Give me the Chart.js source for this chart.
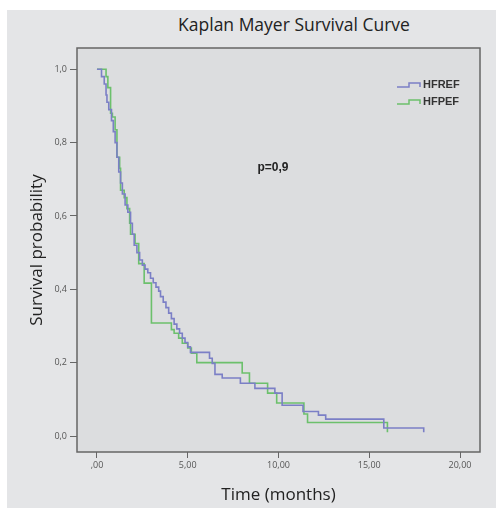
<!DOCTYPE html>
<html>
<head>
    <meta charset="UTF-8">
    <title>Kaplan Mayer Survival Curve</title>
    <style>
        body {
            margin: 0;
            padding: 0;
            background-color: #fff;
            font-family: "Open Sans", Arial, sans-serif;
        }
        #panel {
            position: absolute;
            left: 7px;
            top: 10px;
            width: 489px;
            height: 498px;
            background-color: #e4e5e7;
        }
        #title {
            position: absolute;
            left: 150px;
            top: 12px;
            width: 288px;
            text-align: center;
            font-size: 17.5px;
            color: #222;
        }
        #wrap {
            position: absolute;
            left: 0;
            top: 0;
            width: 496px;
            height: 509px;
        }
    </style>
</head>
<body>
    <div id="panel"></div>
    <div id="title">Kaplan Mayer Survival Curve</div>
    <div id="wrap"><canvas id="kmChart"></canvas></div>

    <script src="https://cdn.jsdelivr.net/npm/chart.js"></script>
    <script>
        // Datos (tiempo en meses, supervivencia)
        var seriesNames = ['HFREF', 'HFPEF'];
        var hfrefTime = [0, 0.25, 0.4, 0.5, 0.55, 0.65, 0.8, 0.9, 1.0, 1.1, 1.2, 1.3, 1.4, 1.55, 1.7, 1.85, 1.95, 2.05, 2.2, 2.35,
            2.5, 2.65, 2.8, 2.95, 3.1, 3.25, 3.4, 3.5, 3.65, 3.8, 3.95, 4.1, 4.25, 4.4, 4.55, 4.7, 4.85, 5.0, 5.15, 6.2,
            6.35, 6.5, 6.9, 7.9, 8.7, 9.8, 10.2, 11.35, 12.2, 12.6, 15.8, 18.0];
        var hfrefSurv = [1.0, 0.98, 0.96, 0.93, 0.91, 0.89, 0.86, 0.83, 0.80, 0.76, 0.72, 0.69, 0.66, 0.63, 0.61, 0.58, 0.55, 0.52, 0.50, 0.48,
            0.466, 0.455, 0.445, 0.43, 0.418, 0.406, 0.395, 0.38, 0.365, 0.35, 0.335, 0.32, 0.305, 0.292, 0.28, 0.267, 0.255, 0.243, 0.228, 0.212,
            0.198, 0.168, 0.158, 0.144, 0.13, 0.117, 0.084, 0.067, 0.057, 0.046, 0.022, 0.01];
        var hfpefTime = [0, 0.5, 0.6, 0.75, 0.85, 1.0, 1.1, 1.25, 1.3, 1.5, 1.65, 1.8, 1.85, 2.1, 2.3, 2.6, 3.0, 4.1, 4.25, 4.5,
            4.7, 5.0, 5.2, 5.5, 8.0, 8.4, 9.4, 9.9, 11.4, 11.6, 16.0];
        var hfpefSurv = [1.0, 0.98, 0.95, 0.88, 0.87, 0.835, 0.76, 0.73, 0.67, 0.65, 0.62, 0.58, 0.55, 0.525, 0.47, 0.417, 0.308, 0.29, 0.28, 0.267,
            0.253, 0.24, 0.226, 0.2, 0.172, 0.144, 0.117, 0.09, 0.06, 0.037, 0.01];
        var xTicks = [0, 5, 10, 15, 20];
        var yTicks = [0, 0.2, 0.4, 0.6, 0.8, 1.0];
        var pText = 'p=0,9';

        var colors = ['#7b7fc6', '#6cc06c'];

        function toPoints(t, s) {
            return t.map(function(v, i) { return {x: v, y: s[i]}; });
        }

        // Fondo, marco, leyenda y valor p
        var decor = {
            id: 'decor',
            beforeDatasetsDraw: function(chart) {
                var a = chart.chartArea, ctx = chart.ctx;
                ctx.save();
                ctx.fillStyle = '#dcdddf';
                ctx.fillRect(a.left, a.top, a.right - a.left, a.bottom - a.top);
                ctx.restore();
            },
            afterDraw: function(chart) {
                var a = chart.chartArea, ctx = chart.ctx;
                ctx.save();
                ctx.strokeStyle = '#666';
                ctx.lineWidth = 1.5;
                ctx.strokeRect(a.left, a.top, a.right - a.left, a.bottom - a.top);

                ctx.font = 'bold 12px "Liberation Sans", Arial, sans-serif';
                ctx.fillStyle = '#222';
                ctx.textAlign = 'center';
                ctx.textBaseline = 'middle';
                ctx.fillText(pText, a.left + 196, a.top + 120);

                ctx.font = 'bold 11px "Liberation Sans", Arial, sans-serif';
                ctx.textAlign = 'left';
                seriesNames.forEach(function(name, i) {
                    var y = a.top + 37 + i * 17;
                    var x0 = a.right - 83;
                    ctx.strokeStyle = colors[i];
                    ctx.lineWidth = 1.5;
                    ctx.beginPath();
                    ctx.moveTo(x0, y + 2);
                    ctx.lineTo(x0 + 12, y + 2);
                    ctx.lineTo(x0 + 12, y - 2);
                    ctx.lineTo(x0 + 23, y - 2);
                    ctx.lineTo(x0 + 23, y + 2);
                    ctx.stroke();
                    ctx.fillStyle = '#333';
                    ctx.fillText(name, x0 + 26, y);
                });
                ctx.restore();
            }
        };

        var ctx = document.getElementById('kmChart').getContext('2d');
        var chart = new Chart(ctx, {
            type: 'line',
            data: {
                datasets: [{
                    label: seriesNames[0],
                    data: toPoints(hfrefTime, hfrefSurv),
                    borderColor: colors[0],
                    borderWidth: 1.6,
                    pointRadius: 0,
                    stepped: true,
                    fill: false
                }, {
                    label: seriesNames[1],
                    data: toPoints(hfpefTime, hfpefSurv),
                    borderColor: colors[1],
                    borderWidth: 1.6,
                    pointRadius: 0,
                    stepped: true,
                    fill: false
                }]
            },
            options: {
                responsive: true,
                maintainAspectRatio: false,
                animation: false,
                layout: { padding: { left: 7, top: 48, right: 16, bottom: 0 } },
                plugins: {
                    legend: { display: false },
                    tooltip: { enabled: false }
                },
                scales: {
                    x: {
                        type: 'linear',
                        min: -1.1,
                        max: 21.1,
                        afterBuildTicks: function(scale) {
                            scale.ticks = xTicks.map(function(v) { return {value: v}; });
                        },
                        afterFit: function(scale) { scale.height = 57; },
                        ticks: {
                            font: { size: 9, family: '"Open Sans", Arial, sans-serif' },
                            color: '#555',
                            padding: 2,
                            callback: function(v) {
                                return v === 0 ? ',00' : v.toFixed(2).replace('.', ',');
                            }
                        },
                        grid: { drawOnChartArea: false, drawTicks: true, tickLength: 6, color: '#666' },
                        border: { display: false },
                        title: {
                            display: true,
                            text: 'Time (months)',
                            font: { size: 17, family: '"Open Sans", Arial, sans-serif' },
                            color: '#222',
                            padding: { top: 0, bottom: 4 }
                        }
                    },
                    y: {
                        min: -0.0436,
                        max: 1.058,
                        afterBuildTicks: function(scale) {
                            scale.ticks = yTicks.map(function(v) { return {value: v}; });
                        },
                        afterFit: function(scale) { scale.width = 70; },
                        ticks: {
                            font: { size: 9, family: '"Open Sans", Arial, sans-serif' },
                            color: '#555',
                            padding: 3,
                            callback: function(v) { return v.toFixed(1).replace('.', ','); }
                        },
                        grid: { drawOnChartArea: false, drawTicks: true, tickLength: 7, color: '#666' },
                        border: { display: false },
                        title: {
                            display: true,
                            text: 'Survival probability',
                            font: { size: 17, family: '"Open Sans", Arial, sans-serif' },
                            color: '#222',
                            padding: { top: 20, bottom: 0 }
                        }
                    }
                }
            },
            plugins: [decor]
        });
    </script>
</body>
</html>
